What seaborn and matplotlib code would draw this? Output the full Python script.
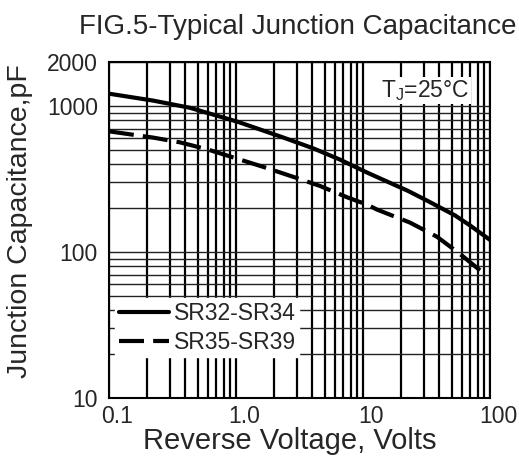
import matplotlib
matplotlib.use("Agg")
import matplotlib.pyplot as plt
import matplotlib.transforms as mtransforms
from matplotlib.ticker import LogLocator, NullFormatter
import numpy as np
import pandas as pd
import seaborn as sns

# data
volts_sr32 = [0.1, 0.222, 0.434, 1.04, 2.29, 4.04, 6.59, 10.9, 22.6, 32.5, 53, 69.6, 100]
cap_sr32 = [1213, 1088, 971, 777, 613, 513, 429, 348, 262, 223, 178, 152, 121]
volts_sr35 = [0.1, 0.222, 0.362, 0.591, 0.897, 1.63, 2.91, 4.59, 7.48, 10.9, 12.9, 23.4, 32.5, 38.3, 58, 86.5]
cap_sr35 = [670, 607, 563, 505, 451, 383, 324, 283, 237, 210, 195, 159, 137, 127, 97, 73]
series_names = ["SR32-SR34", "SR35-SR39"]

x_ticks = [0.1, 1, 10, 100]
x_labels = ["0.1", "1.0", "10", "100"]
y_ticks = [10, 100, 1000, 2000]
y_labels = ["10", "100", "1000", "2000"]

df = pd.concat([
    pd.DataFrame({"V": volts_sr32, "C": cap_sr32, "part": series_names[0]}),
    pd.DataFrame({"V": volts_sr35, "C": cap_sr35, "part": series_names[1]}),
])

sns.set_style("white")
plt.rcParams["font.family"] = ["Liberation Sans", "DejaVu Sans"]
plt.rcParams["mathtext.fontset"] = "custom"
plt.rcParams["mathtext.rm"] = "Liberation Sans"

fig = plt.figure(figsize=(5.19, 4.59), dpi=100)
ax = fig.add_axes([0.210, 0.133, 0.734, 0.732])

sns.lineplot(data=df, x="V", y="C", style="part", color="black", linewidth=3,
             dashes={series_names[0]: "", series_names[1]: (6, 2.2)}, ax=ax, zorder=5)

ax.set_xscale("log")
ax.set_yscale("log")
ax.set_xlim(0.1, 100)
ax.set_ylim(10, 2000)

ax.xaxis.set_minor_locator(LogLocator(base=10, subs=np.arange(2, 10)))
ax.yaxis.set_minor_locator(LogLocator(base=10, subs=np.arange(2, 10)))
ax.xaxis.set_minor_formatter(NullFormatter())
ax.yaxis.set_minor_formatter(NullFormatter())
ax.set_xticks(x_ticks)
ax.set_xticklabels(x_labels)
ax.set_yticks(y_ticks)
ax.set_yticklabels(y_labels)

ax.grid(True, which="both", axis="x", color="black", linewidth=1.6)
ax.grid(True, which="both", axis="y", color="#222222", linewidth=1.0)
ax.tick_params(which="both", length=0)
ax.tick_params(axis="x", labelsize=16.5, pad=5)
ax.tick_params(axis="y", labelsize=16.5, pad=8)
shift = mtransforms.ScaledTranslation(8 / 100, 0, fig.dpi_scale_trans)
for lbl in ax.get_xticklabels():
    lbl.set_transform(lbl.get_transform() + shift)

for s in ax.spines.values():
    s.set_color("black")
    s.set_linewidth(1.5)

ax.set_title("FIG.5-Typical Junction Capacitance", fontsize=20, pad=20, x=0.495)
ax.set_xlabel("Reverse Voltage, Volts", fontsize=21)
ax.xaxis.set_label_coords(0.475, -0.086)
ax.set_ylabel("Junction Capacitance,pF", fontsize=20.5)
ax.yaxis.set_label_coords(-0.20, 0.525)

ax.text(0.83, 0.915, "T$_{\\mathrm{J}}$=25°C", transform=ax.transAxes, fontsize=16.5,
        ha="center", va="center", zorder=6,
        bbox=dict(facecolor="white", edgecolor="none", pad=1))

leg = ax.legend(loc="lower left", bbox_to_anchor=(0.016, 0.122), borderaxespad=0,
                fontsize=16.5, frameon=True, fancybox=False, framealpha=1,
                edgecolor="white", handlelength=2.2, handletextpad=0.2,
                labelspacing=0.25, borderpad=0.15)
leg.set_zorder(7)
for line in leg.get_lines():
    line.set_linewidth(3)

fig.savefig("out.png", dpi=100)
